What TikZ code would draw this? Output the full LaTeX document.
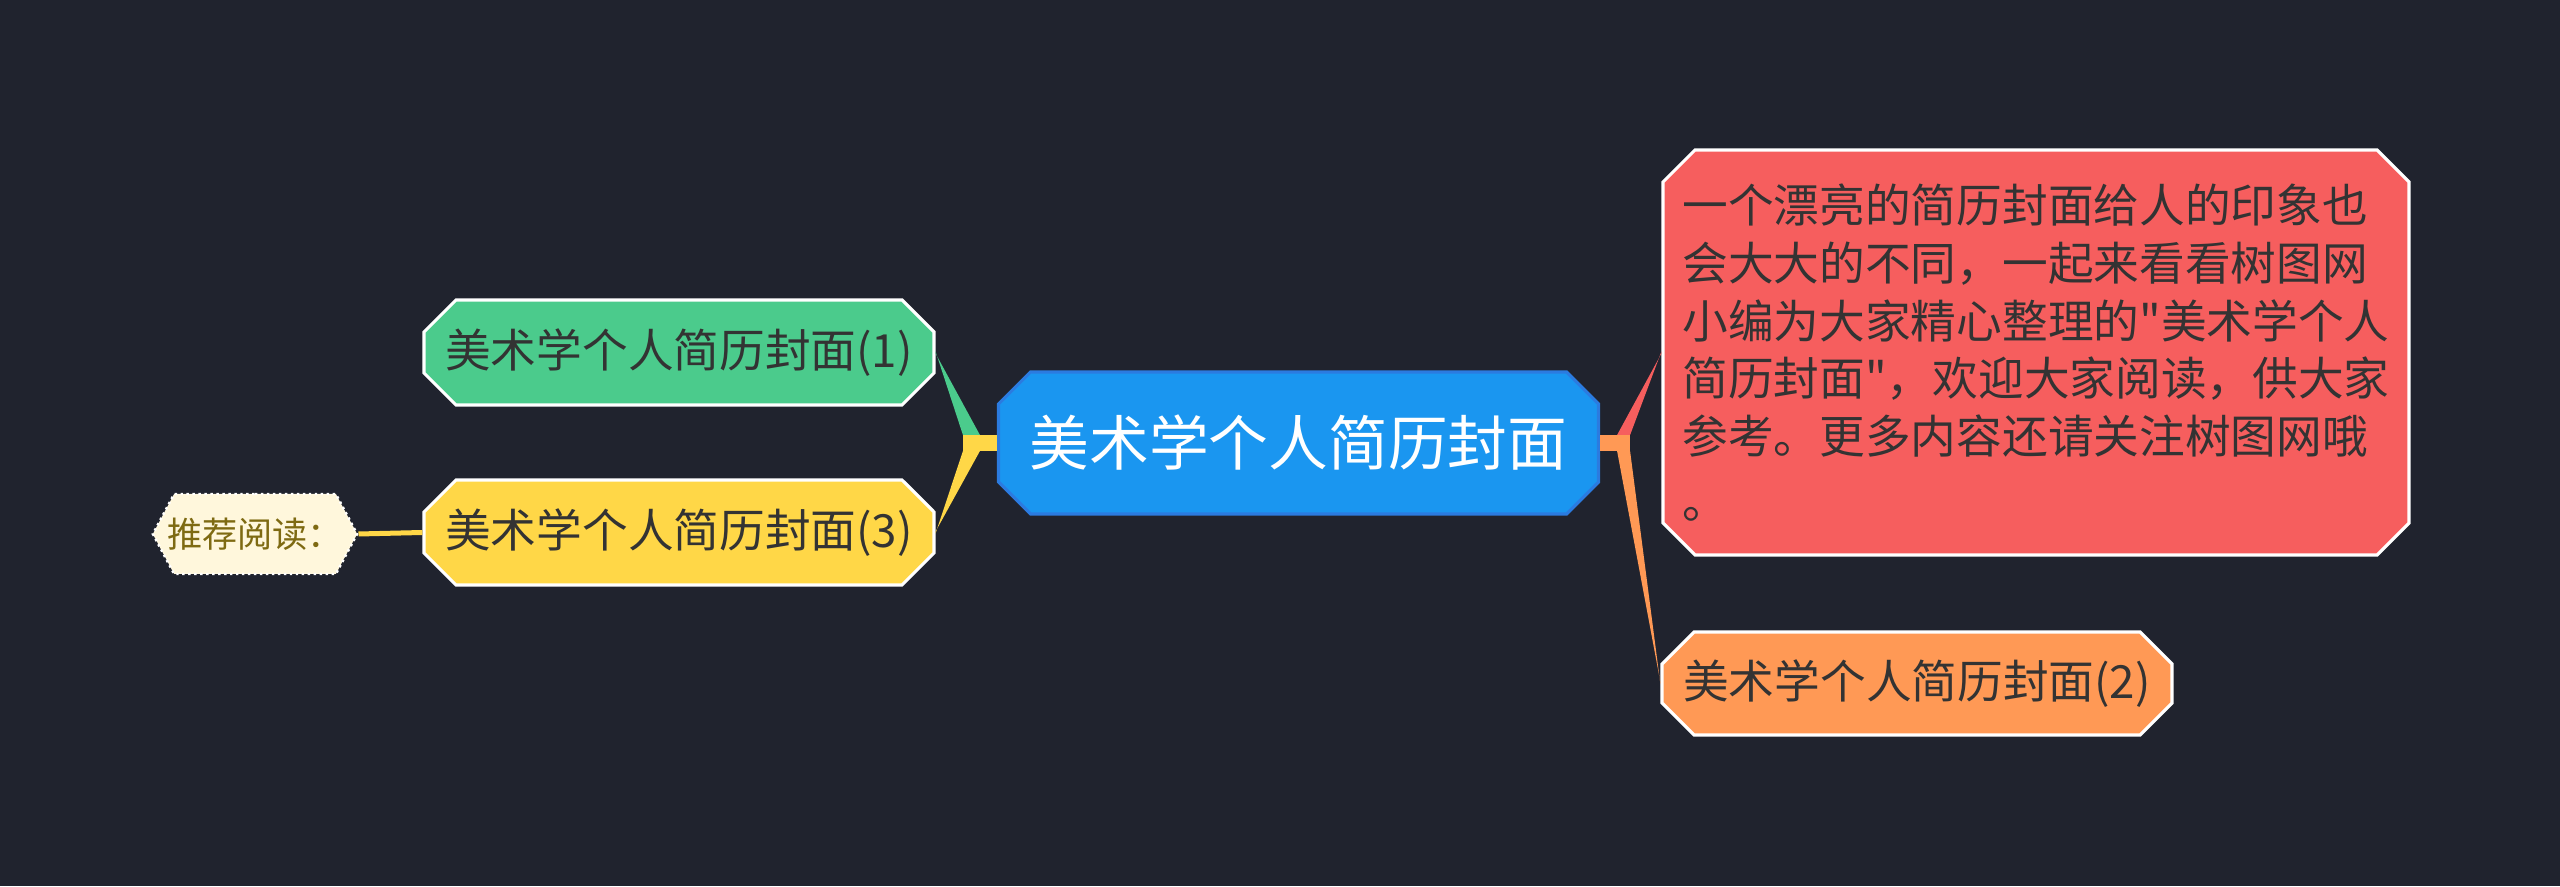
\documentclass[tikz,border=0pt]{standalone}
\usepackage{fontspec}
\newfontfamily\cjkfont{Noto Sans CJK SC}
\usetikzlibrary{shapes.misc, shapes.symbols}
\definecolor{bgc}{HTML}{20232E}
\definecolor{rootc}{HTML}{1A96F0}
\definecolor{rootb}{HTML}{2B7BE0}
\definecolor{greenc}{HTML}{4BCB8C}
\definecolor{yellowc}{HTML}{FFD747}
\definecolor{redc}{HTML}{F65E5E}
\definecolor{orangec}{HTML}{FF9955}
\definecolor{palec}{HTML}{FFF7DC}
\definecolor{olivec}{HTML}{7E6A12}
\definecolor{textc}{HTML}{333333}

\begin{document}
\begin{tikzpicture}[
    c/.style={chamfered rectangle, chamfered rectangle xsep=0.16cm, chamfered rectangle ysep=0.16cm, draw=white, line width=0.9pt, text=textc, font=\cjkfont\fontsize{13pt}{16.4pt}\selectfont, inner sep=0pt, minimum width=5.1cm, minimum height=1.05cm},
    r/.style={signal, signal to=east and west, signal pointer angle=124, draw=white, densely dotted, line width=0.7pt, fill=palec, text=olivec, font=\cjkfont\fontsize{10pt}{12pt}\selectfont, inner ysep=0pt, inner xsep=-0.07cm, minimum width=1.89cm, minimum height=0.8cm},
    l/.style={line width=0.05cm},
]
\fill[bgc] (0,0) rectangle (25.6,8.86);

\node[c, fill=rootc, draw=rootb, text=white, font=\cjkfont\fontsize{17pt}{20pt}\selectfont, minimum width=6.0cm, minimum height=1.42cm] (root) at (12.985,4.43) {美术学个人简历封面};

\node[c, fill=greenc] (c1) at (6.79,5.335) {美术学个人简历封面(1)};
\node[c, fill=yellowc] (c3) at (6.79,3.535) {美术学个人简历封面(3)};
\node[r] (rec) at (2.55,3.52) {推荐阅读：};

\node[c, fill=redc, align=left, minimum width=7.46cm, minimum height=4.05cm] (info) at (20.36,5.335) {一个漂亮的简历封面给人的印象也\\会大大的不同，一起来看看树图网\\小编为大家精心整理的"美术学个人\\简历封面"，欢迎大家阅读，供大家\\参考。更多内容还请关注树图网哦\\[2pt]。};
\node[c, fill=orangec, minimum height=1.03cm] (c2) at (19.17,2.025) {美术学个人简历封面(2)};

% left branches
\fill[yellowc] ([shift={(0,0.08)}]root.west) rectangle ([shift={(-0.34,-0.08)}]root.west);
\fill[greenc] ([shift={(-0.34,0.08)}]root.west) -- ([shift={(-0.17,0.08)}]root.west) -- ([yshift=-0.01cm]c1.east) -- ([yshift=0.01cm]c1.east) -- cycle;
\fill[yellowc] ([shift={(-0.34,-0.08)}]root.west) -- ([shift={(-0.17,-0.08)}]root.west) -- ([yshift=0.01cm]c3.east) -- ([yshift=-0.01cm]c3.east) -- cycle;
\draw[l, yellowc] (rec.east) -- (c3.west);

% right branches
\fill[orangec] ([shift={(0,0.08)}]root.east) rectangle ([shift={(0.30,-0.08)}]root.east);
\fill[redc] ([shift={(0.30,0.08)}]root.east) -- ([shift={(0.17,0.08)}]root.east) -- ([yshift=-0.01cm]info.west) -- ([yshift=0.01cm]info.west) -- cycle;
\fill[orangec] ([shift={(0.30,-0.08)}]root.east) -- ([shift={(0.17,-0.08)}]root.east) -- ([yshift=0.01cm]c2.west) -- ([yshift=-0.01cm]c2.west) -- cycle;
\end{tikzpicture}
\end{document}
